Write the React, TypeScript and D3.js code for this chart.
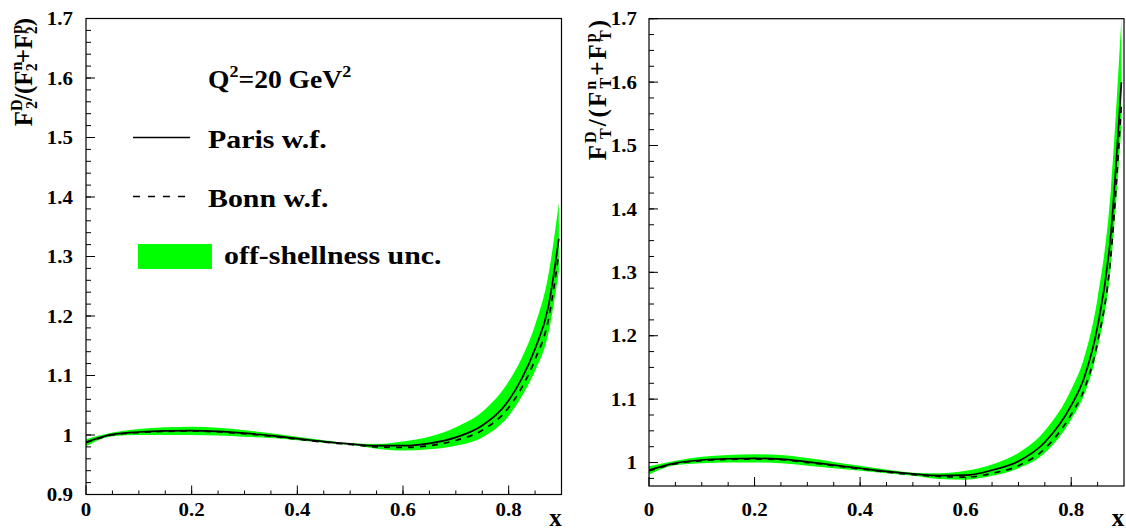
import React from "react";
import * as d3 from "d3";

const xGrid = [0, 0.05, 0.1, 0.15, 0.2, 0.25, 0.3, 0.35, 0.4, 0.45, 0.5, 0.55, 0.6, 0.65, 0.7, 0.75, 0.8, 0.825, 0.85, 0.875, 0.895];

// Left panel: F2 ratio
const f2Paris = [0.988, 1.001, 1.005, 1.007, 1.0075, 1.006, 1.003, 0.999, 0.994, 0.989, 0.985, 0.982, 0.982, 0.986, 0.996, 1.016, 1.058, 1.095, 1.145, 1.215, 1.33];
const f2Bonn = [0.987, 1.0, 1.004, 1.006, 1.0065, 1.005, 1.002, 0.998, 0.993, 0.988, 0.984, 0.980, 0.979, 0.982, 0.991, 1.008, 1.046, 1.08, 1.127, 1.193, 1.305];
const f2BandHi = [0.993, 1.004, 1.01, 1.013, 1.014, 1.012, 1.008, 1.003, 0.997, 0.991, 0.986, 0.985, 0.989, 0.997, 1.013, 1.039, 1.09, 1.13, 1.185, 1.268, 1.39];
const f2BandLo = [0.981, 0.998, 1.0, 1.0, 1.0, 0.999, 0.997, 0.995, 0.991, 0.987, 0.983, 0.977, 0.974, 0.976, 0.982, 0.996, 1.032, 1.065, 1.108, 1.17, 1.275];

// Right panel: FT ratio
const ftParis = [0.988, 0.999, 1.004, 1.006, 1.0065, 1.0055, 1.001, 0.996, 0.991, 0.986, 0.982, 0.9795, 0.98, 0.988, 1.002, 1.032, 1.09, 1.135, 1.215, 1.36, 1.6];
const ftBonn = [0.987, 0.998, 1.003, 1.005, 1.0055, 1.0045, 1.0, 0.995, 0.99, 0.985, 0.981, 0.978, 0.977, 0.983, 0.995, 1.022, 1.076, 1.116, 1.19, 1.325, 1.565];
const ftBandHi = [0.994, 1.003, 1.009, 1.012, 1.013, 1.012, 1.007, 1.001, 0.995, 0.989, 0.984, 0.983, 0.987, 0.997, 1.015, 1.05, 1.115, 1.167, 1.26, 1.43, 1.7];
const ftBandLo = [0.981, 0.996, 0.999, 1.0, 1.0, 0.999, 0.995, 0.991, 0.987, 0.983, 0.979, 0.974, 0.973, 0.979, 0.991, 1.015, 1.068, 1.108, 1.18, 1.31, 1.53];

const xTickLabels = ["0", "0.2", "0.4", "0.6", "0.8"];
const xMajor = [0, 0.2, 0.4, 0.6, 0.8];
const leftYLabels = ["0.9", "1", "1.1", "1.2", "1.3", "1.4", "1.5", "1.6", "1.7"];
const leftYMajor = [0.9, 1.0, 1.1, 1.2, 1.3, 1.4, 1.5, 1.6, 1.7];
const rightYLabels = ["1", "1.1", "1.2", "1.3", "1.4", "1.5", "1.6", "1.7"];
const rightYMajor = [1.0, 1.1, 1.2, 1.3, 1.4, 1.5, 1.6, 1.7];

const FONT = "'Liberation Serif', 'Times New Roman', serif";
const GREEN = "#00ff00";

type PanelProps = {
  x: d3.ScaleLinear<number, number>;
  y: d3.ScaleLinear<number, number>;
  paris: number[];
  bonn: number[];
  hi: number[];
  lo: number[];
  yMajor: number[];
  yLabels: string[];
  yMinorStep: number;
  labelRight: number;
  id: string;
};

function Panel({ x, y, paris, bonn, hi, lo, yMajor, yLabels, yMinorStep, labelRight, id }: PanelProps) {
  const [x0, x1] = x.range();
  const [y0, y1] = y.range();
  const [d0, d1] = y.domain();
  const idx = xGrid.map((_, i) => i);
  const area = d3
    .area<number>()
    .x((i) => x(xGrid[i]))
    .y0((i) => y(lo[i]))
    .y1((i) => y(hi[i]))
    .curve(d3.curveMonotoneX);
  const line = (vals: number[]) =>
    d3
      .line<number>()
      .x((i) => x(xGrid[i]))
      .y((i) => y(vals[i]))
      .curve(d3.curveMonotoneX)(idx) || "";

  const yMinor: number[] = [];
  const start = Math.ceil((d0 - 1e-9) / yMinorStep) * yMinorStep;
  for (let v = start; v <= d1 + 1e-9; v += yMinorStep) yMinor.push(+v.toFixed(4));
  const xMinor: number[] = [];
  for (let v = 0.05; v < 0.9 - 1e-9; v += 0.05) xMinor.push(+v.toFixed(3));

  return (
    <g>
      <defs>
        <clipPath id={id}>
          <rect x={x0} y={y1} width={x1 - x0} height={y0 - y1} />
        </clipPath>
      </defs>
      <g clipPath={`url(#${id})`}>
        <path d={area(idx) || ""} fill={GREEN} stroke="none" />
        <path d={line(paris)} fill="none" stroke="#000" strokeWidth={1.7} />
        <path d={line(bonn)} fill="none" stroke="#000" strokeWidth={1.7} strokeDasharray="6,6" />
      </g>
      <rect x={x0} y={y1} width={x1 - x0} height={y0 - y1} fill="none" stroke="#000" strokeWidth={1.2} />
      {yMinor.map((v) => (
        <line key={"ym" + v} x1={x0} x2={x0 + 5} y1={y(v)} y2={y(v)} stroke="#000" strokeWidth={1} />
      ))}
      {yMajor.map((v) => (
        <line key={"yM" + v} x1={x0} x2={x0 + 9} y1={y(v)} y2={y(v)} stroke="#000" strokeWidth={1} />
      ))}
      {xMinor.map((v) => (
        <line key={"xm" + v} x1={x(v)} x2={x(v)} y1={y0} y2={y0 - 4} stroke="#000" strokeWidth={1} />
      ))}
      {xMajor.map((v) => (
        <line key={"xM" + v} x1={x(v)} x2={x(v)} y1={y0} y2={y0 - 9} stroke="#000" strokeWidth={1} />
      ))}
      {yMajor.map((v, i) => (
        <text key={"yl" + v} transform={`translate(${labelRight},${y(v)}) scale(1.1,1)`} dy="0.35em" textAnchor="end" fontFamily={FONT} fontWeight="bold" fontSize={19}>
          {yLabels[i]}
        </text>
      ))}
      {xMajor.map((v, i) => (
        <text key={"xl" + v} transform={`translate(${x(v)},516) scale(1.1,1)`} textAnchor="middle" fontFamily={FONT} fontWeight="bold" fontSize={19}>
          {xTickLabels[i]}
        </text>
      ))}
      <text x={x1 - 6} y={526} textAnchor="middle" fontFamily={FONT} fontWeight="bold" fontSize={25}>
        x
      </text>
    </g>
  );
}

function YTitle({ bx, sub, spacing }: { bx: number; sub: string; spacing: number }) {
  const main = 25;
  const small = 16;
  const pieces: React.ReactNode[] = [];
  const supSub = (sup: string, key: string) => [
    <tspan key={key + "a"} fontSize={small} dy={-10}>{sup}</tspan>,
    <tspan key={key + "b"} fontSize={small} dx={-small * 0.6} dy={15}>{sub}</tspan>,
  ];
  pieces.push(<tspan key="f1">F</tspan>);
  pieces.push(...supSub("D", "s1"));
  pieces.push(<tspan key="t1" dy={-5}>/(F</tspan>);
  pieces.push(...supSub("n", "s2"));
  pieces.push(<tspan key="t2" dy={-5}>+F</tspan>);
  pieces.push(...supSub("p", "s3"));
  pieces.push(<tspan key="t3" dy={-5}>)</tspan>);
  return (
    <text
      transform={`translate(${bx},18) rotate(-90)`}
      textAnchor="end"
      fontFamily={FONT}
      fontWeight="bold"
      fontSize={main}
      letterSpacing={spacing}
    >
      {pieces}
    </text>
  );
}

export default function App() {
  const xL = d3.scaleLinear().domain([0, 0.9]).range([86, 561.5]);
  const yL = d3.scaleLinear().domain([0.9, 1.7]).range([494.5, 18.5]);
  const xR = d3.scaleLinear().domain([0, 0.9]).range([649, 1124]);
  const yR = d3.scaleLinear().domain([0.963, 1.7]).range([486, 18.7]);

  return (
    <svg
      width={1126}
      height={531}
      style={{ position: "absolute", left: 0, top: 0, background: "#fff" }}
    >
      <rect width={1126} height={531} fill="#fff" />
      <Panel x={xL} y={yL} paris={f2Paris} bonn={f2Bonn} hi={f2BandHi} lo={f2BandLo} yMajor={leftYMajor} yLabels={leftYLabels} yMinorStep={0.02} labelRight={73} id="clipL" />
      <Panel x={xR} y={yR} paris={ftParis} bonn={ftBonn} hi={ftBandHi} lo={ftBandLo} yMajor={rightYMajor} yLabels={rightYLabels} yMinorStep={0.025} labelRight={637} id="clipR" />
      <YTitle bx={32} sub="2" spacing={0} />
      <YTitle bx={606} sub="T" spacing={2} />

      {/* Legend */}
      <text transform="translate(208,88) scale(1.06,1)" fontFamily={FONT} fontWeight="bold" fontSize={26}>
        Q<tspan fontSize={17} dy={-11}>2</tspan>
        <tspan dy={11}>=20 GeV</tspan>
        <tspan fontSize={17} dy={-11}>2</tspan>
      </text>
      <line x1={133} x2={190} y1={137.5} y2={137.5} stroke="#000" strokeWidth={1.7} />
      <text transform="translate(208,148) scale(1.15,1)" fontFamily={FONT} fontWeight="bold" fontSize={26}>Paris w.f.</text>
      <line x1={133} x2={192} y1={196.5} y2={196.5} stroke="#000" strokeWidth={1.7} strokeDasharray="7,8" />
      <text transform="translate(208,207) scale(1.15,1)" fontFamily={FONT} fontWeight="bold" fontSize={26}>Bonn w.f.</text>
      <rect x={138} y={244} width={74} height={25} fill={GREEN} />
      <text transform="translate(224,264) scale(1.15,1)" fontFamily={FONT} fontWeight="bold" fontSize={26}>off-shellness unc.</text>
    </svg>
  );
}
